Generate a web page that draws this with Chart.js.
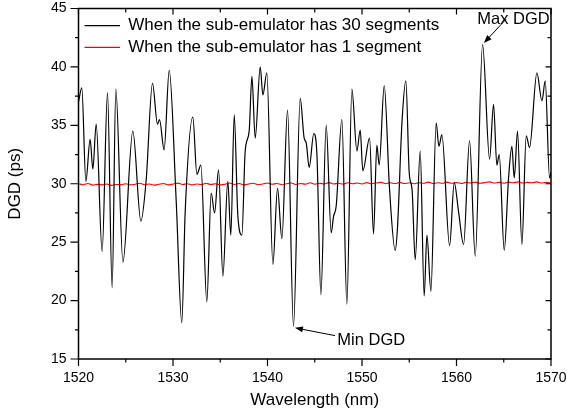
<!DOCTYPE html>
<html><head><meta charset="utf-8">
<script src="https://cdn.jsdelivr.net/npm/chart.js@4.4.1/dist/chart.umd.min.js"></script>
<style>html,body{margin:0;padding:0;background:#fff}#wrap{width:567px;height:416px}</style>
</head><body><div id="wrap"><canvas id="c" width="567" height="416"></canvas></div>
<script>
// ---- data ----
const seriesLabels = ['When the sub-emulator has 30 segments', 'When the sub-emulator has 1 segment'];
const wavelength30 = [1520.0,1520.35,1520.78,1521.23,1521.52,1521.87,1522.5,1523.07,1523.56,1523.95,1524.7,1525.75,1526.6,1527.16,1527.83,1528.36,1528.57,1529.06,1529.6,1530.34,1530.93,1531.29,1532.1,1532.53,1532.95,1533.58,1534.04,1534.4,1534.82,1535.28,1535.8,1536.12,1536.48,1536.86,1537.29,1537.64,1538.06,1538.35,1538.7,1539.23,1539.51,1539.93,1540.57,1541.06,1541.52,1542.12,1542.75,1543.46,1543.88,1544.1,1544.41,1544.9,1545.23,1545.65,1546.21,1546.74,1546.99,1547.27,1547.87,1548.4,1548.93,1549.46,1549.81,1550.09,1550.8,1551.22,1551.57,1551.82,1552.35,1552.91,1553.51,1553.76,1554.22,1554.64,1555.0,1555.3,1555.63,1556.16,1556.58,1556.87,1557.29,1557.85,1558.14,1558.45,1559.27,1559.76,1560.22,1560.75,1561.38,1561.98,1562.76,1563.5,1563.92,1564.27,1564.52,1565.05,1565.51,1565.86,1566.11,1566.46,1566.92,1567.38,1567.73,1568.51,1569.04,1569.39,1569.85,1570.0];
const dgd30 = [37.0,38.2,30.2,33.8,31.25,35.1,24.2,37.8,21.1,38.1,23.3,34.5,26.8,30.3,38.6,35.1,35.5,32.9,39.7,28.5,18.1,27.6,35.7,30.8,31.6,19.9,29.2,27.5,31.2,22.1,30.2,25.6,35.9,27.3,25.6,32.8,34.5,39.2,33.9,40.0,37.6,39.5,23.1,29.6,25.3,36.3,17.8,37.3,33.9,33.5,31.4,34.3,32.5,20.5,35.0,25.8,27.2,28.1,35.5,19.7,38.1,32.8,34.6,31.1,33.9,25.7,33.3,31.6,38.4,29.6,24.3,26.3,35.1,38.8,30.9,29.5,23.5,32.8,20.4,25.6,20.8,35.2,33.2,34.2,24.7,30.1,27.6,24.8,33.7,23.8,41.9,32.1,36.8,31.6,32.5,24.3,30.5,33.2,30.5,34.5,24.8,34.1,33.1,39.5,37.1,38.8,30.5,31.0];
const wavelength1Start = 1520, wavelength1Step = 0.5;
const dgd1 = [30.0,29.92,30.02,29.88,29.95,29.9,29.98,29.86,29.94,29.92,30.0,29.9,29.96,30.04,29.92,29.98,29.88,29.96,30.02,29.9,29.98,30.05,29.94,30.0,29.9,29.98,29.92,30.04,29.94,30.0,29.9,29.96,30.06,29.94,30.02,29.9,29.98,30.04,29.92,29.98,30.06,29.96,30.02,29.92,30.0,30.06,29.94,30.02,29.96,30.08,29.96,30.04,29.98,30.1,29.98,30.04,29.96,30.08,30.0,30.06,29.98,30.1,30.0,30.06,30.12,30.0,30.08,30.02,30.12,30.02,30.08,30.0,30.1,30.04,30.14,30.02,30.08,30.04,30.14,30.04,30.1,30.02,30.12,30.06,30.14,30.04,30.1,30.16,30.06,30.12,30.04,30.14,30.08,30.16,30.06,30.12,30.08,30.16,30.06,30.12,30.04];
const xMajorTicks = [1520,1530,1540,1550,1560,1570];
const xMinorTicks = [1525,1535,1545,1555,1565];
const yMajorTicks = [15,20,25,30,35,40,45];
const yMinorTicks = [17.5,22.5,27.5,32.5,37.5,42.5];
const maxLabel = 'Max DGD', minLabel = 'Min DGD';

// ---- build datasets ----
const pts30 = wavelength30.map((x,i)=>({x, y: dgd30[i]}));
const pts1 = dgd1.map((y,i)=>({x: wavelength1Start + i*wavelength1Step, y}));
const FONT = "Arial, 'Liberation Sans', sans-serif";

const decor = {
  id: 'decor',
  afterDatasetsDraw(chart) {
    const {ctx, chartArea: a, scales: {x, y}} = chart;
    ctx.save();
    ctx.strokeStyle = '#000';
    ctx.lineWidth = 1.5;
    ctx.strokeRect(a.left, a.top, a.right - a.left, a.bottom - a.top);
    ctx.lineWidth = 1.2;
    ctx.beginPath();
    const tickX = (v, big) => {
      const px = x.getPixelForValue(v);
      const out = big ? 7 : 3.5, inn = big ? 6 : 4;
      ctx.moveTo(px, a.bottom); ctx.lineTo(px, a.bottom + out);
      ctx.moveTo(px, a.top); ctx.lineTo(px, a.top + inn);
    };
    const tickY = (v, big) => {
      const py = y.getPixelForValue(v);
      const out = big ? 8 : 3.5, inn = big ? 5.5 : 3.5;
      ctx.moveTo(a.left, py); ctx.lineTo(a.left - out, py);
      ctx.moveTo(a.right, py); ctx.lineTo(a.right - inn, py);
    };
    xMajorTicks.forEach(v => tickX(v, true));
    xMinorTicks.forEach(v => tickX(v, false));
    yMajorTicks.forEach(v => tickY(v, true));
    yMinorTicks.forEach(v => tickY(v, false));
    ctx.stroke();

    // legend
    ctx.font = '17px ' + FONT;
    ctx.textBaseline = 'middle';
    ctx.textAlign = 'left';
    ctx.fillStyle = '#000';
    chart.data.datasets.forEach((ds, i) => {
      const cy = a.top + 17.2 + i * 21.6;
      ctx.strokeStyle = ds.borderColor;
      ctx.lineWidth = 1.2;
      ctx.beginPath(); ctx.moveTo(a.left + 6, cy); ctx.lineTo(a.left + 41.5, cy); ctx.stroke();
      ctx.fillText(ds.label, a.left + 49.8, cy);
    });

    // annotations
    const arrow = (x1, y1, x2, y2) => {
      const X1 = x.getPixelForValue(x1), Y1 = y.getPixelForValue(y1);
      const X2 = x.getPixelForValue(x2), Y2 = y.getPixelForValue(y2);
      const ang = Math.atan2(Y2 - Y1, X2 - X1);
      ctx.strokeStyle = '#000'; ctx.lineWidth = 1;
      ctx.beginPath(); ctx.moveTo(X1, Y1); ctx.lineTo(X2 - 6*Math.cos(ang), Y2 - 6*Math.sin(ang)); ctx.stroke();
      ctx.beginPath();
      ctx.moveTo(X2, Y2);
      ctx.lineTo(X2 - 8*Math.cos(ang) + 3*Math.sin(ang), Y2 - 8*Math.sin(ang) - 3*Math.cos(ang));
      ctx.lineTo(X2 - 8*Math.cos(ang) - 3*Math.sin(ang), Y2 - 8*Math.sin(ang) + 3*Math.cos(ang));
      ctx.closePath(); ctx.fillStyle = '#000'; ctx.fill();
    };
    ctx.font = '16.5px ' + FONT;
    ctx.fillStyle = '#000';
    ctx.fillText(maxLabel, x.getPixelForValue(1562.2), y.getPixelForValue(44.1));
    arrow(1565.26, 44.1, 1562.9, 42.05);
    ctx.fillText(minLabel, x.getPixelForValue(1547.39), y.getPixelForValue(16.58));
    arrow(1547.14, 17.0, 1542.9, 17.67);
    ctx.restore();
  }
};

new Chart(document.getElementById('c'), {
  type: 'scatter',
  data: {
    datasets: [
      { label: seriesLabels[0], data: pts30, showLine: true, borderColor: '#000000', borderWidth: 1.2, pointRadius: 0, cubicInterpolationMode: 'monotone', fill: false },
      { label: seriesLabels[1], data: pts1, showLine: true, borderColor: '#ff0000', borderWidth: 1.1, pointRadius: 0, cubicInterpolationMode: 'monotone', fill: false }
    ]
  },
  options: {
    responsive: false, animation: false, devicePixelRatio: 1,
    layout: { padding: { left: 0, right: 16, top: 8.5, bottom: 0 } },
    plugins: { legend: { display: false }, tooltip: { enabled: false } },
    scales: {
      x: {
        type: 'linear', min: 1520, max: 1570,
        afterBuildTicks: s => { s.ticks = xMajorTicks.map(v => ({value: v})); },
        afterFit: s => { s.height = 57; s.paddingLeft = 0; s.paddingRight = 0; },
        grid: { display: false, drawTicks: false }, border: { display: false },
        ticks: { color: '#000', font: { family: FONT, size: 14 }, padding: 10.5, maxRotation: 0, autoSkip: false, callback: v => String(v) },
        title: { display: true, text: 'Wavelength (nm)', color: '#000', font: { family: FONT, size: 17 }, padding: { top: 0, bottom: 5.8 } }
      },
      y: {
        type: 'linear', min: 15, max: 45,
        afterBuildTicks: s => { s.ticks = yMajorTicks.map(v => ({value: v})); },
        afterFit: s => { s.width = 78.5; s.paddingTop = 0; s.paddingBottom = 0; },
        grid: { display: false, drawTicks: false }, border: { display: false },
        ticks: { color: '#000', font: { family: FONT, size: 14 }, padding: 12, autoSkip: false, callback: v => String(v) },
        title: { display: true, text: 'DGD (ps)', color: '#000', font: { family: FONT, size: 17 }, padding: { top: 5, bottom: 0 } }
      }
    }
  },
  plugins: [decor]
});
</script>
</body></html>
